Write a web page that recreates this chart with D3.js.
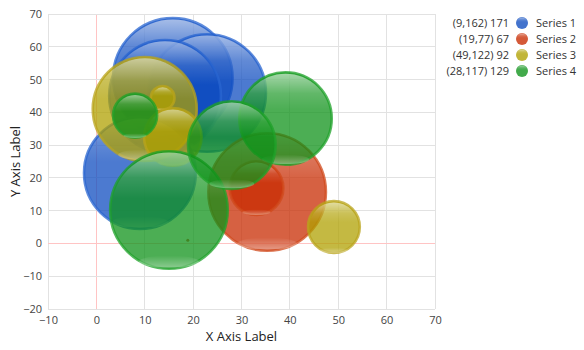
<!DOCTYPE html>
<html>
<head>
<meta charset="utf-8">
<script src="https://cdn.jsdelivr.net/npm/d3@7"></script>
<style>
  html, body { margin: 0; padding: 0; background: #fff; }
  svg { display: block; font-family: "Open Sans", "Noto Sans", sans-serif; }
</style>
</head>
<body>
<svg id="chart" width="584" height="350"></svg>
<script>
// Bubble series: x, y and bubble radius (radius expressed in x-axis units)
const seriesNames = ["Series 1", "Series 2", "Series 3", "Series 4"];
const seriesColors = ["#0e4bbf", "#c82a00", "#b0a000", "#0d9218"];
const ringColors = ["#2a66d0", "#d04a1c", "#b9a41c", "#1fa22a"];
const legendTexts = ["(9,162) 171", "(19,77) 67", "(49,122) 92", "(28,117) 129"];

const s1X = [15.8, 22.9, 14.2, 9.0];
const s1Y = [50.5, 45.9, 45.0, 21.5];
const s1R = [12.6, 12.4, 11.8, 11.8];

const s2X = [35.3, 33.1, 18.9];
const s2Y = [15.7, 16.9, 1.0];
const s2R = [12.4, 5.8, 0.4];

const s3X = [10.0, 13.7, 15.8, 49.1];
const s3Y = [41.0, 44.4, 32.5, 5.0];
const s3R = [11.0, 2.7, 6.2, 5.6];

const s4X = [15.0, 39.1, 8.0, 28.0];
const s4Y = [10.2, 38.1, 39.0, 30.0];
const s4R = [12.4, 9.8, 4.8, 9.3];

const xTicks = [-10, 0, 10, 20, 30, 40, 50, 60, 70];
const yTicks = [-20, -10, 0, 10, 20, 30, 40, 50, 60, 70];

const seriesData = [
  [s1X, s1Y, s1R], [s2X, s2Y, s2R], [s3X, s3Y, s3R], [s4X, s4Y, s4R]
].map(([xs, ys, rs], si) => xs.map((x, i) => ({ x, y: ys[i], r: rs[i], s: si })));

const svg = d3.select("#chart");
const plot = { left: 48, top: 14, right: 435, bottom: 309 };

const x = d3.scaleLinear().domain([-10, 70]).range([plot.left, plot.right]);
const y = d3.scaleLinear().domain([-20, 70]).range([plot.bottom, plot.top]);
const rPx = v => x(v) - x(0);

// Gradients for the glossy look
const defs = svg.append("defs");
const topGloss = defs.append("linearGradient").attr("id", "topGloss")
  .attr("x1", 0).attr("y1", 0).attr("x2", 0).attr("y2", 1);
topGloss.append("stop").attr("offset", "0%").attr("stop-color", "#fff").attr("stop-opacity", 0.5);
topGloss.append("stop").attr("offset", "22%").attr("stop-color", "#fff").attr("stop-opacity", 0.12);
topGloss.append("stop").attr("offset", "40%").attr("stop-color", "#fff").attr("stop-opacity", 0);
topGloss.append("stop").attr("offset", "100%").attr("stop-color", "#fff").attr("stop-opacity", 0);

const botGloss = defs.append("linearGradient").attr("id", "botGloss")
  .attr("x1", 0).attr("y1", 0).attr("x2", 0).attr("y2", 1);
botGloss.append("stop").attr("offset", "0%").attr("stop-color", "#fff").attr("stop-opacity", 0);
botGloss.append("stop").attr("offset", "100%").attr("stop-color", "#fff").attr("stop-opacity", 0.35);

// Grid
const grid = svg.append("g");
grid.selectAll(".gx").data(xTicks).join("line")
  .attr("x1", d => x(d)).attr("x2", d => x(d))
  .attr("y1", plot.top).attr("y2", plot.bottom)
  .attr("stroke", d => d === 0 ? "#ffc4c4" : "#e2e2e2").attr("stroke-width", 1)
  .attr("shape-rendering", "crispEdges");
grid.selectAll(".gy").data(yTicks).join("line")
  .attr("y1", d => y(d)).attr("y2", d => y(d))
  .attr("x1", plot.left).attr("x2", plot.right)
  .attr("stroke", d => d === 0 ? "#ffc4c4" : "#e2e2e2").attr("stroke-width", 1)
  .attr("shape-rendering", "crispEdges");

// Axes (labels only, lines hidden)
const xAxis = svg.append("g").attr("transform", `translate(0,${plot.bottom})`)
  .call(d3.axisBottom(x).tickValues(xTicks).tickSize(0).tickPadding(7));
const yAxis = svg.append("g").attr("transform", `translate(${plot.left},0)`)
  .call(d3.axisLeft(y).tickValues(yTicks).tickSize(0).tickPadding(6));
[xAxis, yAxis].forEach(a => {
  a.select(".domain").remove();
  a.selectAll("text").attr("fill", "#444").style("font-size", "11px")
    .style("font-family", "'Open Sans', 'Noto Sans', sans-serif");
});

svg.append("text").attr("x", (plot.left + plot.right) / 2).attr("y", 341)
  .attr("text-anchor", "middle").attr("fill", "#222").style("font-size", "13px")
  .text("X Axis Label");
svg.append("text").attr("transform", `translate(20,${(plot.top + plot.bottom) / 2}) rotate(-90)`)
  .attr("text-anchor", "middle").attr("fill", "#222").style("font-size", "13px")
  .text("Y Axis Label");

// Bubbles
const bubbles = svg.append("g");
seriesData.forEach(points => {
  const g = bubbles.selectAll(null).data(points).join("g")
    .attr("transform", d => `translate(${x(d.x)},${y(d.y)})`);
  g.append("circle")
    .attr("r", d => Math.max(rPx(d.r) - 1.2, 1.5))
    .attr("fill", d => seriesColors[d.s]).attr("fill-opacity", 0.74)
    .attr("stroke", d => ringColors[d.s]).attr("stroke-opacity", 0.75)
    .attr("stroke-width", d => rPx(d.r) > 6 ? 2.6 : 0);
  g.filter(d => rPx(d.r) > 6).append("circle")
    .attr("r", d => rPx(d.r) - 2.5)
    .attr("fill", "url(#topGloss)");
  g.filter(d => rPx(d.r) > 6).append("ellipse")
    .attr("cx", 0).attr("cy", d => rPx(d.r) * 0.86)
    .attr("rx", d => rPx(d.r) * 0.5).attr("ry", d => rPx(d.r) * 0.1)
    .attr("fill", "url(#botGloss)");
});

// Legend
const legend = svg.append("g");
const rows = legend.selectAll("g").data(seriesNames).join("g")
  .attr("transform", (d, i) => `translate(0,${23 + i * 16})`);
rows.append("text").attr("x", 509).attr("dy", "0.35em").attr("text-anchor", "end")
  .attr("fill", "#333").style("font-size", "11px").text((d, i) => legendTexts[i]);
rows.append("circle").attr("cx", 522).attr("r", 6)
  .attr("fill", (d, i) => seriesColors[i]).attr("fill-opacity", 0.78);
rows.append("circle").attr("cx", 522).attr("r", 5.5).attr("fill", "url(#topGloss)");
rows.append("text").attr("x", 536).attr("dy", "0.35em")
  .attr("fill", "#333").style("font-size", "11px").text(d => d);
</script>
</body>
</html>
